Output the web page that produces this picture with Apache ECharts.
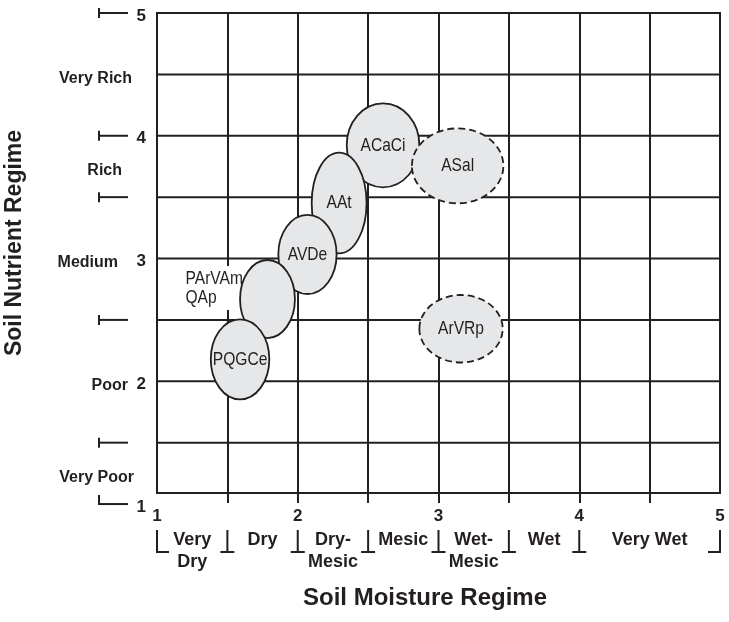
<!DOCTYPE html>
<html><head><meta charset="utf-8">
<script src="https://cdn.jsdelivr.net/npm/echarts@6/dist/echarts.min.js"></script>
<style>html,body{margin:0;padding:0;background:#fff}#c{width:729px;height:622px}</style>
</head><body><div id="c"></div>
<script>
// ---- data ----
const ellipseNames = ['ACaCi', 'ASal', 'AAt', 'AVDe', 'PArVAm\nQAp', 'PQGCe', 'ArVRp'];
const ellipseX  = [2.606, 3.136, 2.294, 2.069, 1.785, 1.590, 3.160];
const ellipseY  = [3.922, 3.755, 3.452, 3.033, 2.670, 2.179, 2.428];
const ellipseRX = [0.258, 0.325, 0.195, 0.207, 0.195, 0.208, 0.296];
const ellipseRY = [0.342, 0.305, 0.410, 0.322, 0.318, 0.326, 0.275];
const ellipseDashed = [false, true, false, false, false, false, true];
const labelOutside  = [false, false, false, false, true, false, false];

const xTickLabels = [1, 2, 3, 4, 5];
const xTickMarks = [1.5, 2, 2.5, 3, 3.5, 4, 4.5];
const xClassNames = ['Very\nDry', 'Dry', 'Dry-\nMesic', 'Mesic', 'Wet-\nMesic', 'Wet', 'Very Wet'];
const xClassBounds = [1, 1.5, 2, 2.5, 3, 3.5, 4, 5];

const yTickLabels = [5, 4, 3, 2, 1];
const yClassNames = ['Very Rich', 'Rich', 'Medium', 'Poor', 'Very Poor'];
const yClassCenters = [4.5, 3.75, 3, 2, 1.25];
const yMarkerVals = [5, 4, 3.5, 2.5, 1.5, 1];
const yGridVals = [1.5, 2, 2.5, 3, 3.5, 4, 4.5];

const X_MIN = 1, X_MAX = 5, Y_MIN = 1.09, Y_MAX = 5;

// ---- style ----
const INK = '#231f20';
const FONT = '"Liberation Sans", Arial, Helvetica, sans-serif';
const yClassLabelOffsets = [-25, -35, -39, -29, -23];

const chart = echarts.init(document.getElementById('c'), null, {renderer: 'canvas'});

function lineEl(x1, y1, x2, y2, w) {
  return {type: 'line', shape: {x1, y1, x2, y2}, style: {stroke: INK, lineWidth: w || 2}};
}

const option = {
  animation: false,
  backgroundColor: '#fff',
  grid: {left: 157, right: 9, top: 13, bottom: 129, show: true, borderColor: INK, borderWidth: 2, backgroundColor: 'transparent'},
  xAxis: {
    type: 'value', min: X_MIN, max: X_MAX, interval: 0.5,
    axisLine: {show: true, onZero: false, lineStyle: {color: INK, width: 2}},
    axisTick: {show: true, inside: false, length: 10, customValues: xTickMarks, lineStyle: {color: INK, width: 2}},
    axisLabel: {show: true, margin: 15, fontSize: 17, fontWeight: 'bold', fontFamily: FONT, color: INK,
      customValues: xTickLabels, showMinLabel: true, showMaxLabel: true,
      formatter: v => (Number.isInteger(v) ? String(v) : '')},
    splitLine: {show: true, lineStyle: {color: INK, width: 2}}
  },
  yAxis: {
    type: 'value', min: Y_MIN, max: Y_MAX,
    axisLine: {show: false}, axisTick: {show: false}, axisLabel: {show: false}, splitLine: {show: false}
  },
  graphic: [
    {type: 'text', x: 425, y: 598, style: {text: 'Soil Moisture Regime', align: 'center', verticalAlign: 'middle', fontSize: 24, fontWeight: 'bold', fontFamily: FONT, fill: INK}},
    {type: 'text', x: 15, y: 243, rotation: Math.PI / 2, style: {text: 'Soil Nutrient Regime', align: 'center', verticalAlign: 'middle', fontSize: 23, fontWeight: 'bold', fontFamily: FONT, fill: INK}}
  ],
  series: [
    // horizontal grid lines
    {
      type: 'custom', z: 1, silent: true,
      data: yGridVals.map(v => [X_MIN, v]),
      encode: {x: 0, y: 1},
      renderItem(params, api) {
        const a = api.coord([X_MIN, api.value(1)]);
        const b = api.coord([X_MAX, api.value(1)]);
        return lineEl(a[0], a[1], b[0], b[1], 2);
      }
    },
    // ellipses
    {
      type: 'custom', z: 3, silent: true,
      data: ellipseX.map((x, i) => [x, ellipseY[i], ellipseRX[i], ellipseRY[i]]),
      encode: {x: 0, y: 1},
      renderItem(params, api) {
        const i = params.dataIndex;
        const c = api.coord([api.value(0), api.value(1)]);
        const s = api.size([api.value(2), api.value(3)]);
        const rx = s[0], ry = s[1];
        const ell = {type: 'ellipse', shape: {cx: c[0], cy: c[1], rx: rx, ry: ry},
          style: {fill: '#e6e7e8', stroke: INK, lineWidth: 1.8, lineDash: ellipseDashed[i] ? [7, 4] : null}};
        if (labelOutside[i]) {
          const t = {type: 'text', x: c[0] - rx - 57, y: c[1] - 11, scaleX: 0.82,
            style: {text: ellipseNames[i], x: 0, y: 0, align: 'left', verticalAlign: 'middle', lineHeight: 19,
              fontSize: 19, fontFamily: FONT, fill: INK, backgroundColor: '#fff', padding: [3, 0, 3, 3]}};
          return {type: 'group', children: [t, ell]};
        }
        const t = {type: 'text', x: c[0], y: c[1], scaleX: 0.82,
          style: {text: ellipseNames[i], x: 0, y: 0, align: 'center', verticalAlign: 'middle',
            fontSize: 19, fontFamily: FONT, fill: INK}};
        return {type: 'group', children: [ell, t]};
      }
    },
    // y markers
    {
      type: 'custom', z: 2, silent: true, clip: false,
      data: yMarkerVals.map(v => [X_MIN, v]),
      encode: {x: 0, y: 1},
      renderItem(params, api) {
        const v = api.value(1);
        const p = api.coord([X_MIN, v]);
        const x0 = p[0] - 58, x1 = p[0] - 29, y = p[1];
        const isBottom = v === Math.min.apply(null, yMarkerVals);
        return {type: 'group', children: [
          lineEl(x0, y, x1, y, 2),
          isBottom ? lineEl(x0, y - 9, x0, y + 1, 2) : lineEl(x0, y - 5, x0, y + 5, 2)
        ]};
      }
    },
    // y numbers
    {
      type: 'custom', z: 2, silent: true, clip: false,
      data: yTickLabels.map(v => [X_MIN, v]),
      encode: {x: 0, y: 1},
      renderItem(params, api) {
        const v = api.value(1);
        const p = api.coord([X_MIN, v]);
        return {type: 'text', x: p[0] - 11, y: p[1] + 3,
          style: {text: String(v), align: 'right', verticalAlign: 'middle', fontSize: 17, fontWeight: 'bold', fontFamily: FONT, fill: INK}};
      }
    },
    // y class labels
    {
      type: 'custom', z: 2, silent: true, clip: false,
      data: yClassCenters.map(v => [X_MIN, v]),
      encode: {x: 0, y: 1},
      renderItem(params, api) {
        const i = params.dataIndex;
        const p = api.coord([X_MIN, api.value(1)]);
        return {type: 'text', x: p[0] + yClassLabelOffsets[i], y: p[1] + 4,
          style: {text: yClassNames[i], align: 'right', verticalAlign: 'middle', fontSize: 16, fontWeight: 'bold', fontFamily: FONT, fill: INK}};
      }
    },
    // x class markers
    {
      type: 'custom', z: 2, silent: true, clip: false,
      data: xClassBounds.map(v => [v, Y_MIN]),
      encode: {x: 0, y: 1},
      renderItem(params, api) {
        const i = params.dataIndex;
        const p = api.coord([api.value(0), Y_MIN]);
        const x = p[0], yb = p[1] + 59, yt = p[1] + 37;
        let h;
        if (i === 0) h = lineEl(x - 1, yb, x + 12, yb, 2);
        else if (i === xClassBounds.length - 1) h = lineEl(x - 12, yb, x + 1, yb, 2);
        else h = lineEl(x - 7, yb, x + 7, yb, 2);
        return {type: 'group', children: [lineEl(x, yt, x, yb, 2), h]};
      }
    },
    // x class labels
    {
      type: 'custom', z: 2, silent: true, clip: false,
      data: xClassNames.map((n, i) => [(xClassBounds[i] + xClassBounds[i + 1]) / 2, Y_MIN]),
      encode: {x: 0, y: 1},
      renderItem(params, api) {
        const i = params.dataIndex;
        const p = api.coord([api.value(0), Y_MIN]);
        return {type: 'text', x: p[0], y: p[1] + 36,
          style: {text: xClassNames[i], align: 'center', verticalAlign: 'top', lineHeight: 22, fontSize: 18, fontWeight: 'bold', fontFamily: FONT, fill: INK}};
      }
    }
  ]
};
chart.setOption(option);
</script>
</body></html>
